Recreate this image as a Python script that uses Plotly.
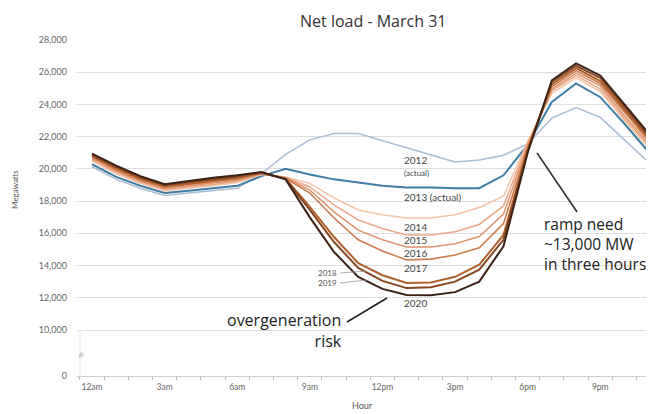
import plotly.graph_objects as go

hours = list(range(24))
hour_ticks = [0, 3, 6, 9, 12, 15, 18, 21]
hour_labels = ["12am", "3am", "6am", "9am", "12pm", "3pm", "6pm", "9pm"]

y_tick_vals = [7145, 10000, 12000, 14000, 16000, 18000, 20000, 22000, 24000, 26000, 28000]
y_tick_text = ["0", "10,000", "12,000", "14,000", "16,000", "18,000", "20,000", "22,000", "24,000", "26,000", "28,000"]

load_2012 = [20150, 19350, 18800, 18350, 18500, 18650, 18800, 19700, 20900, 21800, 22200, 22200,
             21750, 21300, 20870, 20430, 20550, 20850, 21550, 23150, 23800, 23200, 21800, 20400]
load_2013 = [20300, 19500, 18950, 18500, 18650, 18800, 18950, 19550, 20000, 19650, 19350, 19150,
             18950, 18850, 18850, 18800, 18800, 19600, 21500, 24150, 25300, 24450, 22800, 21050]
load_2014 = [20500, 19700, 19100, 18650, 18800, 18950, 19150, 19650, 19500, 19100, 18200, 17450,
             17150, 16950, 16950, 17150, 17600, 18300, 21700, 24700, 25650, 24800, 23000, 21300]
load_2015 = [20580, 19780, 19180, 18720, 18880, 19030, 19230, 19680, 19470, 18880, 17760, 16830,
             16300, 15900, 15900, 16100, 16550, 17700, 21600, 24850, 25800, 24950, 23150, 21450]
load_2016 = [20650, 19870, 19250, 18780, 18950, 19120, 19300, 19700, 19450, 18690, 17330, 16200,
             15600, 15150, 15150, 15350, 15800, 17200, 21450, 24950, 25950, 25150, 23300, 21600]
load_2017 = [20730, 19950, 19330, 18850, 19030, 19200, 19380, 19730, 19420, 18500, 16950, 15600,
             14900, 14350, 14400, 14650, 15100, 16600, 21300, 25100, 26100, 25300, 23500, 21750]
load_2018 = [20800, 20030, 19400, 18920, 19100, 19280, 19450, 19750, 19400, 17640, 15770, 14150,
             13400, 12920, 12950, 13300, 14050, 15900, 21200, 25250, 26250, 25450, 23650, 21900]
load_2019 = [20880, 20120, 19480, 18980, 19180, 19370, 19530, 19780, 19370, 17450, 15460, 13850,
             13050, 12600, 12650, 13000, 13750, 15600, 21100, 25400, 26400, 25650, 23850, 22050]
load_2020 = [20950, 20200, 19550, 19050, 19250, 19450, 19600, 19800, 19350, 16990, 14840, 13300,
             12550, 12170, 12150, 12350, 13000, 15200, 21000, 25500, 26550, 25800, 24000, 22200]

series = [
    ("2012", load_2012, "#a9bdd3", 1.5),
    ("2013", load_2013, "#3e7ea6", 2.0),
    ("2014", load_2014, "#f2c4a6", 1.5),
    ("2015", load_2015, "#eaa98a", 1.5),
    ("2016", load_2016, "#df936d", 1.5),
    ("2017", load_2017, "#cd7c4e", 1.6),
    ("2018", load_2018, "#b0612d", 2.0),
    ("2019", load_2019, "#874622", 2.0),
    ("2020", load_2020, "#3b2216", 2.0),
]

FONT = "Open Sans"
SMALL = "Lato"

fig = go.Figure()
for name, vals, color, w in series:
    fig.add_trace(go.Scatter(x=hours, y=vals, mode="lines", name=name,
                             line=dict(color=color, width=w), hoverinfo="skip"))


def hx(px):
    return (px - 92) / 24.2


def my(py):
    return 10000 + (330 - py) / 16.11 * 1000


ann = []


def label(text, px, py, size=10, anchor="left", color="#444", family=SMALL, align=None):
    ann.append(dict(x=hx(px), y=my(py), xref="x", yref="y", text=text, showarrow=False,
                    xanchor=anchor, yanchor="middle", borderpad=0, align=align or anchor,
                    font=dict(family=family, size=size, color=color)))


label("2012", 403, 160)
label("(actual)", 403, 173, size=8)
label("2013 (actual)", 403, 197)
label("2014", 403, 227)
label("2015", 403, 240)
label("2016", 403, 253)
label("2017", 403, 268)
label("2020", 403, 303)
label("2018", 338, 273, size=8, anchor="right", color="#555")
label("2019", 338, 283, size=8, anchor="right", color="#555")
label("overgeneration<br>risk", 343, 330, size=16, anchor="right", color="#222", family=FONT)
label("ramp need<br>~13,000 MW<br>in three hours", 543, 244, size=15.5, color="#222", family=FONT)

# geometry of the plot area in page pixels (page body has an 8px margin)
PL, PR, PT, PB = 77, 654, 40, 376
PW, PH = PR - PL, PB - PT


def px_paper(px):
    return (px - PL) / PW


def py_paper(py):
    return (PB - py) / PH


ann.append(dict(x=px_paper(373), y=py_paper(21), xref="paper", yref="paper",
                text="Net load - March 31", showarrow=False, xanchor="center", yanchor="middle",
                font=dict(family=FONT, size=16, color="#333")))
ann.append(dict(x=px_paper(15), y=py_paper(190), xref="paper", yref="paper",
                text="Megawatts", showarrow=False, textangle=-90, xanchor="center", yanchor="middle",
                font=dict(family=SMALL, size=8, color="#555")))
ann.append(dict(x=px_paper(362), y=py_paper(406), xref="paper", yref="paper",
                text="Hour", showarrow=False, xanchor="center", yanchor="middle",
                font=dict(family=SMALL, size=9, color="#555")))
ann.append(dict(x=px_paper(80), y=py_paper(355), xref="paper", yref="paper",
                text="≈", showarrow=False, textangle=-70, xanchor="center", yanchor="middle",
                font=dict(family=SMALL, size=12, color="#aaa")))

shapes = []


def seg(p0, p1, color, w):
    shapes.append(dict(type="line", xref="x", yref="y", x0=hx(p0[0]), y0=my(p0[1]),
                       x1=hx(p1[0]), y1=my(p1[1]), line=dict(color=color, width=w)))


seg((347, 322), (387, 298), "#222", 1.6)
seg((537, 153), (577, 212), "#333", 1.6)
seg((340, 273), (367, 271), "#999", 0.8)
seg((340, 283), (367, 280), "#999", 0.8)
shapes.append(dict(type="line", xref="paper", yref="paper", x0=px_paper(80), x1=px_paper(80),
                   y0=0, y1=py_paper(330), line=dict(color="#e3e3e3", width=1)))

fig.update_layout(
    width=654 - 8, height=414 - 8, autosize=False,
    margin=dict(l=PL - 8, r=0, t=PT - 8, b=(414 - PB)),
    paper_bgcolor="white", plot_bgcolor="white",
    showlegend=False,
    annotations=ann, shapes=shapes,
    xaxis=dict(range=[-0.62, 23.22], tickvals=hour_ticks, ticktext=hour_labels,
               showgrid=False, zeroline=False, showline=True, linecolor="#cfcfcf", linewidth=1,
               ticks="", ticklabelstandoff=3,
               tickfont=dict(family=SMALL, size=8.5, color="#666"),
               minor=dict(tickvals=[h + 0.5 for h in range(-1, 23)], ticks="outside",
                          ticklen=3, tickcolor="#bbb", tickwidth=1)),
    yaxis=dict(range=[7145, 28000], tickvals=y_tick_vals, ticktext=y_tick_text,
               showgrid=True, gridcolor="#dedede", gridwidth=1.2, zeroline=False,
               showline=False, ticks="", ticklabelstandoff=9,
               tickfont=dict(family=SMALL, size=9, color="#666")),
)

fig.write_html("out.html")
